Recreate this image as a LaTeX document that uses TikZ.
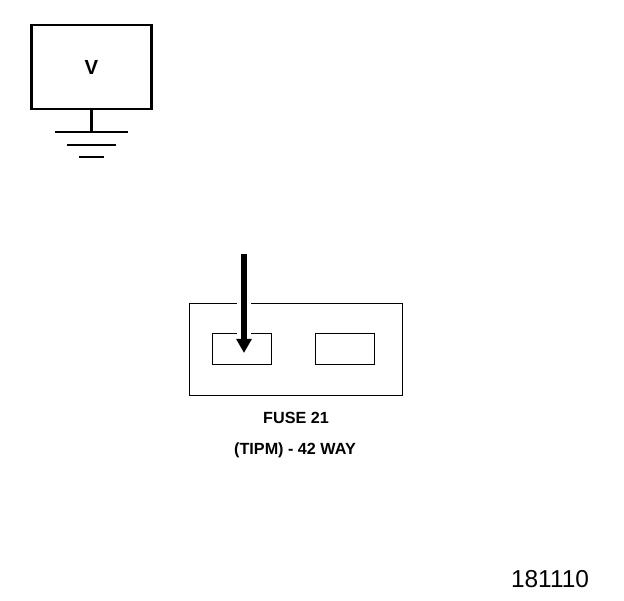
\documentclass[tikz,border=0pt]{standalone}
\usepackage{fontspec}
\setmainfont{Liberation Sans}
\usetikzlibrary{arrows.meta}
\tikzset{
    meterbox/.style={rectangle, draw, line width=2.1pt, inner sep=0mm, minimum width=3cm, minimum height=2.1cm},
    fusebox/.style={rectangle, draw, line width=.55pt, inner sep=0mm},
    groundline/.style={line width=1.6pt},
    caption/.style={inner sep=0mm, font=\fontsize{11.5}{13}\selectfont\bfseries}
}

\begin{document}
\begin{tikzpicture}
    \useasboundingbox (0cm, 0cm) rectangle (15.6cm, 15cm);

    \node (vbox) [meterbox, font=\fontsize{14.5}{16}\selectfont\bfseries] at (2.2875cm, 13.325cm) {V};
    \coordinate (g0) at (2.2875cm, 11.7cm);
    \coordinate (g1l) at (1.375cm, 11.7cm);
    \coordinate (g1r) at (3.2cm, 11.7cm);
    \coordinate (g2l) at (1.675cm, 11.375cm);
    \coordinate (g2r) at (2.9cm, 11.375cm);
    \coordinate (g3l) at (1.975cm, 11.075cm);
    \coordinate (g3r) at (2.6cm, 11.075cm);

    \node (panel) [fusebox, minimum width=5.325cm, minimum height=2.3cm] at (7.3875cm, 6.275cm) {};
    \node (slot1) [fusebox, minimum width=1.475cm, minimum height=.775cm] at (6.0375cm, 6.2875cm) {};
    \node (slot2) [fusebox, minimum width=1.475cm, minimum height=.775cm] at (8.6125cm, 6.2875cm) {};
    \coordinate (top) at (6.1cm, 8.65cm);
    \coordinate (tip) at (6.1cm, 6.175cm);

    \node (fuse) [caption] at (7.4cm, 4.55cm) {FUSE 21};
    \node (tipm) [caption] at (7.375cm, 3.75cm) {(TIPM) - 42 WAY};
    \node (num) [inner sep=0mm, font=\fontsize{17.4}{19}\selectfont] at (13.75cm, .525cm) {181110};

    \draw [line width=2.1pt] (vbox) -- (g0);
    \draw [groundline] (g1l) -- (g1r);
    \draw [groundline] (g2l) -- (g2r);
    \draw [groundline] (g3l) -- (g3r);

    \draw [white, line width=10pt] (top) -- (tip);
    \draw [line width=4.2pt, -{Triangle[length=10pt, width=10.5pt]}] (top) -- (tip);
\end{tikzpicture}
\end{document}
